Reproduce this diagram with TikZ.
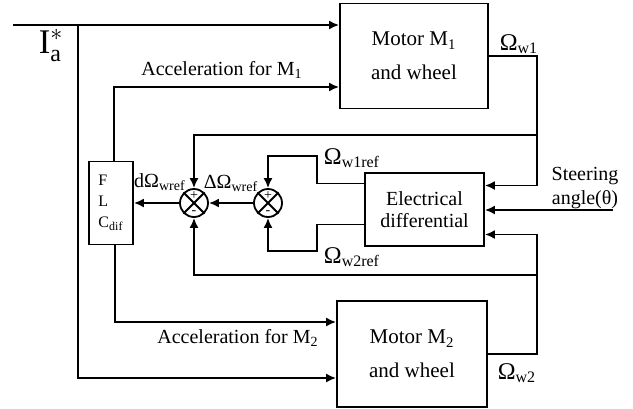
\documentclass[tikz,border=0pt]{standalone}
\usepackage{fontspec}
\setmainfont{Liberation Serif}
\usetikzlibrary{arrows.meta,positioning}

\begin{document}
\begin{tikzpicture}[x=0.5pt,y=-0.5pt,line width=0.9pt,
                    >={Latex[length=5pt,width=4.5pt]},
                    block/.style={draw,rectangle,inner sep=0pt,align=center,
                                  font=\fontsize{10.5}{17}\selectfont},
                    sumnode/.style={draw,circle,minimum size=14pt,inner sep=0pt},
                    lbl/.style={inner sep=0pt,font=\fontsize{10}{12}\selectfont}]
   \useasboundingbox (0,0) rectangle (633,408);
   \node[block,minimum width=74pt,minimum height=52.5pt] (m1) at (414,56) {Motor M\textsubscript{1}\\and wheel};
   \node[block,minimum width=75pt,minimum height=53pt] (m2) at (412,354) {Motor M\textsubscript{2}\\and wheel};
   \node[block,minimum width=59.5pt,minimum height=36.5pt,
         font=\fontsize{10}{11}\selectfont] (ed) at (424.5,209.5) {Electrical\\differential};
   \node[block,minimum width=22pt,minimum height=41.5pt,align=left,
         font=\fontsize{8}{10.5}\selectfont] (flc) at (111,203) {F\\L\\C\textsubscript{dif}};
   \node[sumnode] (s1) at (194,203) {};
   \node[sumnode] (s2) at (268,203) {};
   \draw (s1.north west) -- (s1.south east) (s1.north east) -- (s1.south west);
   \draw (s2.north west) -- (s2.south east) (s2.north east) -- (s2.south west);
   \node[lbl,font=\scriptsize] (p1) at ([yshift=3.5pt]s1) {+};
   \node[lbl,font=\scriptsize] (n1) at ([yshift=-5pt]s1) {-};
   \node[lbl,font=\scriptsize] (p2) at ([yshift=3.5pt]s2) {+};
   \node[lbl,font=\scriptsize] (n2) at ([yshift=-5pt]s2) {-};
   \coordinate (ia) at (13,25);
   \coordinate (br) at (78,25);
   \coordinate (r1) at (537,135);
   \coordinate (r2) at (537,275);
   \coordinate (k1) at (317,156);
   \coordinate (k2) at (317,251);
   \coordinate (st) at (613,210);
   \draw[->] (ia) -- (ia -| m1.west);
   \draw[->] (br) |- ([yshift=-12pt]m2.west);
   \draw[->] ([xshift=1.5pt]flc.north) |- ([yshift=-15.5pt]m1.west);
   \draw[->] ([xshift=2pt]flc.south) |- ([yshift=16pt]m2.west);
   \draw[->] (m1.east) -| (r1) |- ([yshift=12pt]ed.east);
   \draw[->] (r1) -| (s1.north);
   \draw[->] (m2.east) -| (r2) |- ([yshift=-12.5pt]ed.east);
   \draw[->] (r2) -| (s1.south);
   \draw[->] (st) -- (st -| ed.east);
   \draw[->] ([yshift=13pt]ed.west) -| (k1) -| (s2.north);
   \draw[->] ([yshift=-7.5pt]ed.west) -| (k2) -| (s2.south);
   \draw[->] (s2) -- (s1);
   \draw[->] (s1) -- (flc);
   \node[lbl,font=\LARGE,anchor=base west] (ialbl) at (38,53) {$\mathrm{I}_{\mathrm{a}}^{*}$};
   \node[lbl] (acc1) at (222,70) {Acceleration for M\textsubscript{1}};
   \node[lbl] (acc2) at (238,338) {Acceleration for M\textsubscript{2}};
   \node[lbl,font=\large] (w1) at (519,44) {Ω\textsubscript{w1}};
   \node[lbl,font=\large] (w2) at (517,373) {Ω\textsubscript{w2}};
   \node[lbl,font=\large] (w1r) at (352,158) {Ω\textsubscript{w1ref}};
   \node[lbl,font=\large] (w2r) at (352,257) {Ω\textsubscript{w2ref}};
   \node[lbl] (dw) at (160,182) {dΩ\textsubscript{wref}};
   \node[lbl] (ddw) at (231,183) {ΔΩ\textsubscript{wref}};
   \node[lbl,align=center] (steer) at (585,188) {Steering\\angle(θ)};
\end{tikzpicture}
\end{document}
